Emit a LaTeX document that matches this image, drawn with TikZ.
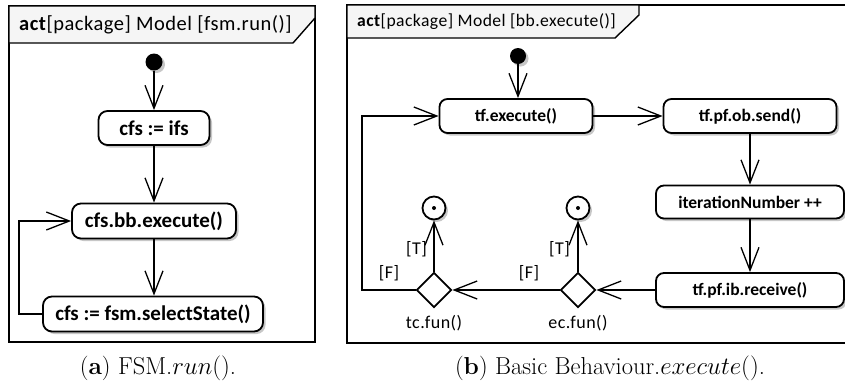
\documentclass[tikz,border=0pt]{standalone}
\usepackage{fontspec}
\newfontfamily\umlfont{Carlito}
\newfontfamily\umlhead[LetterSpace=2.5]{Carlito}
\usetikzlibrary{arrows.meta,shapes.geometric,shadows}

\begin{document}
\begin{tikzpicture}[x=1pt,y=-1pt,
  every node/.style={font=\umlfont},
  frameline/.style={line width=1.4pt},
  headbox/.style={frameline, fill=gray!8},
  boxshadow/.style={drop shadow={shadow xshift=2.5pt,shadow yshift=-2.5pt,fill=black!22,opacity=1}},
  actionL/.style={draw, line width=1.8pt, rounded corners=9pt, fill=white, inner sep=0pt,
    font=\umlfont\bfseries\fontsize{21}{24}\selectfont, boxshadow},
  actionR/.style={draw, line width=1.8pt, rounded corners=8pt, fill=white, inner sep=0pt,
    minimum height=34pt, font=\umlfont\bfseries\fontsize{17.5}{20}\selectfont, boxshadow},
  startdot/.style={circle, fill=black, minimum size=17pt, inner sep=0pt, boxshadow},
  enddot/.style={circle, draw, line width=1.8pt, fill=white, minimum size=23pt, inner sep=0pt, boxshadow},
  decision/.style={diamond, draw, line width=1.8pt, fill=white, minimum width=35pt,
    minimum height=35pt, inner sep=0pt},
  guard/.style={font=\umlhead\fontsize{18}{20}\selectfont, inner sep=0pt},
  flow/.style={line width=1.3pt, -{Straight Barb[length=23pt,width=18pt,line width=1.3pt]}},
  caption/.style={font=\rmfamily\fontsize{24.5}{28}\selectfont, anchor=base, inner sep=0pt}
]
\useasboundingbox (0,0) rectangle (845,383);

% ---------- left frame: fsm.run() ----------
\draw[frameline] (9,6) rectangle (315,342);
\draw[headbox] (9,6) -- (315,6) -- (315,18) -- (293,43) -- (9,43) -- cycle;
\node[anchor=west, inner sep=0pt, font=\umlhead\fontsize{20.5}{24}\selectfont] (hl) at (19,25)
  {\textbf{act}[package] Model [fsm.run()]};

\node[startdot] (s0) at (154,62) {};
\node[actionL, minimum width=111pt, minimum height=34pt] (ifs) at (154,128) {cfs := ifs};
\node[actionL, minimum width=164pt, minimum height=35pt] (bbx) at (154,221) {cfs.bb.execute()};
\node[actionL, minimum width=220pt, minimum height=35pt] (sel) at (153,314) {cfs := fsm.selectState()};
\coordinate (lp) at (19,314);

\draw[flow] (s0) -- (ifs);
\draw[flow] (ifs) -- (bbx);
\draw[flow] (bbx) -- (sel.north -| bbx);
\draw[flow] (sel.west) -- (lp) |- (bbx.west);

% ---------- right frame: bb.execute() ----------
\draw[frameline] (846,5) -- (347,5) -- (347,343) -- (846,343);
\draw[headbox] (347,5) -- (639,5) -- (639,15) -- (615,38) -- (347,38) -- cycle;
\node[anchor=west, inner sep=0pt, font=\umlhead\fontsize{17.6}{21}\selectfont] (hr) at (357,21.5)
  {\textbf{act}[package] Model [bb.execute()]};

\node[startdot, minimum size=16pt] (s1) at (518,56) {};
\node[actionR, minimum width=153pt] (tfx) at (516,116) {tf.execute()};
\node[actionR, minimum width=173pt] (snd) at (750,116) {tf.pf.ob.send()};
\node[actionR, minimum width=188pt, minimum height=33pt] (itn) at (750,202) {iterationNumber ++};
\node[actionR, minimum width=188pt] (rcv) at (750,290) {tf.pf.ib.receive()};

\node[decision] (ec) at (578,290) {};
\node[decision] (tc) at (434,290) {};
\node[enddot] (fe) at (578,208) {};
\node[enddot] (ft) at (434,208) {};
\fill (fe.center) circle (2pt);
\fill (ft.center) circle (2pt);

\node[guard] (tcl) at (434,323) {tc.fun()};
\node[guard] (ecl) at (578,323) {ec.fun()};
\node[guard, anchor=east] (tt) at (427,249) {[T]};
\node[guard, anchor=east] (et) at (570,249) {[T]};
\node[guard] (tf) at (389,273) {[F]};
\node[guard] (ef) at (529,273) {[F]};

\coordinate (rl) at (362,290);

\draw[flow] (s1) -- (s1 |- tfx.north);
\draw[flow] (tfx) -- (snd);
\draw[flow] (snd) -- (itn);
\draw[flow] (itn) -- (rcv);
\draw[flow] (rcv) -- (ec);
\draw[flow] (ec) -- (tc);
\draw[flow] (ec) -- (fe);
\draw[flow] (tc) -- (ft);
\draw[flow] (tc.west) -- (rl) |- (tfx.west);

% ---------- captions ----------
\node[caption] (capa) at (158,374) {(\textbf{a}) FSM.$run()$.};
\node[caption] (capb) at (610,374) {(\textbf{b}) Basic Behaviour.$execute()$.};
\end{tikzpicture}
\end{document}
